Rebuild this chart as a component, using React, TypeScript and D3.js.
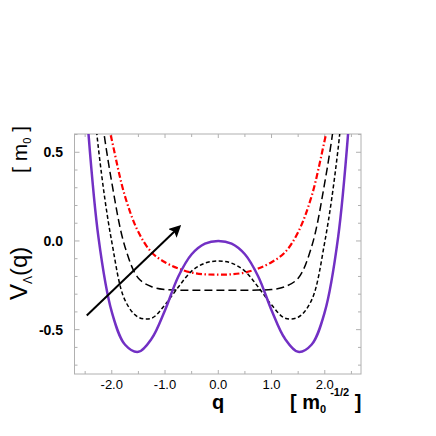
import React, { useEffect, useRef } from 'react';
import * as d3 from 'd3';

// q grid shared by all curves
const qValues = [-2.5, -2.25, -2.0, -1.75, -1.5, -1.25, -1.0, -0.75, -0.5, -0.25, 0,
  0.25, 0.5, 0.75, 1.0, 1.25, 1.5, 1.75, 2.0, 2.25, 2.5];

// V(q), one array per curve
const solidV = [0.85, 0.02, -0.40, -0.585, -0.625, -0.55, -0.39, -0.20, -0.075, -0.015, 0,
  -0.015, -0.075, -0.20, -0.39, -0.55, -0.625, -0.585, -0.40, 0.02, 0.85];
const shortDashV = [1.35, 0.52, -0.005, -0.335, -0.43, -0.435, -0.36, -0.26, -0.17, -0.125, -0.113,
  -0.125, -0.17, -0.26, -0.36, -0.435, -0.43, -0.335, -0.005, 0.52, 1.35];
const longDashV = [1.6, 0.84, 0.33, -0.035, -0.21, -0.258, -0.274, -0.277, -0.278, -0.278, -0.278,
  -0.278, -0.278, -0.277, -0.274, -0.258, -0.21, -0.035, 0.33, 0.84, 1.6];
const dashDotV = [1.5, 0.92, 0.57, 0.25, 0.05, -0.065, -0.12, -0.155, -0.178, -0.188, -0.19,
  -0.188, -0.178, -0.155, -0.12, -0.065, 0.05, 0.25, 0.57, 0.92, 1.5];

const xTicks = [-2.0, -1.0, 0.0, 1.0, 2.0];
const yTicks = [0.5, 0.0, -0.5];

// arrow from / to, in (q, V)
const arrowFrom = [-2.47, -0.42];
const arrowTo = [-0.73, 0.08];

const FONT = 'Liberation Sans, Arial, sans-serif';

export default function App() {
  const ref = useRef<SVGSVGElement>(null);

  useEffect(() => {
    const left = 74.5, right = 361, top = 134, bottom = 374;

    const x = d3.scaleLinear().domain([-2.7, 2.68]).range([left, right]);
    const y = d3.scaleLinear().domain([-0.75, 0.603]).range([bottom, top]);

    const svg = d3.select(ref.current);
    svg.selectAll('*').remove();

    const defs = svg.append('defs');
    defs.append('clipPath').attr('id', 'plotclip')
      .append('rect')
      .attr('x', left).attr('y', top)
      .attr('width', right - left).attr('height', bottom - top);

    const marker = defs.append('marker')
      .attr('id', 'arrowhead')
      .attr('viewBox', '0 0 10 10')
      .attr('refX', 8).attr('refY', 5)
      .attr('markerWidth', 6).attr('markerHeight', 6)
      .attr('markerUnits', 'strokeWidth')
      .attr('orient', 'auto');
    marker.append('path').attr('d', 'M0,0 L10,5 L0,10 L2,5 Z').attr('fill', '#000');

    // frame
    svg.append('rect')
      .attr('x', left).attr('y', top)
      .attr('width', right - left).attr('height', bottom - top)
      .attr('fill', 'none').attr('stroke', '#b0b0b0').attr('stroke-width', 1);

    // inward ticks
    const tickColor = '#b0b0b0';
    const g = svg.append('g');
    d3.range(-2.5, 2.51, 0.5).forEach(v => {
      const px = x(v);
      const len = Math.abs(v % 1) < 1e-6 ? 4 : 3;
      g.append('line').attr('x1', px).attr('x2', px).attr('y1', bottom).attr('y2', bottom - len)
        .attr('stroke', tickColor);
      g.append('line').attr('x1', px).attr('x2', px).attr('y1', top).attr('y2', top + len)
        .attr('stroke', tickColor);
    });
    d3.range(-0.7, 0.61, 0.1).forEach(v => {
      const py = y(v);
      const major = Math.abs((Math.round(v * 10)) % 5) === 0;
      const len = major ? 5 : 3;
      g.append('line').attr('x1', left).attr('x2', left + len).attr('y1', py).attr('y2', py)
        .attr('stroke', tickColor);
      g.append('line').attr('x1', right).attr('x2', right - len).attr('y1', py).attr('y2', py)
        .attr('stroke', tickColor);
    });

    // tick labels
    svg.append('g').selectAll('text').data(xTicks).enter().append('text')
      .attr('x', d => x(d))
      .attr('y', 389)
      .attr('text-anchor', 'middle')
      .attr('font-family', FONT)
      .attr('font-size', 13)
      .text(d => d.toFixed(1));

    svg.append('g').selectAll('text').data(yTicks).enter().append('text')
      .attr('x', 63)
      .attr('y', d => y(d) + 5)
      .attr('text-anchor', 'end')
      .attr('font-family', FONT)
      .attr('font-weight', 'bold')
      .attr('font-size', 14)
      .text(d => d.toFixed(1));

    // curves
    const line = d3.line<number>()
      .x((d, i) => x(qValues[i]))
      .y(d => y(d))
      .curve(d3.curveCatmullRom.alpha(0.5));

    const curves = svg.append('g').attr('clip-path', 'url(#plotclip)');
    const series = [
      { v: dashDotV, color: '#ff0000', width: 2.2, dash: '6,2.5,1.5,2.5' },
      { v: longDashV, color: '#000', width: 1.5, dash: '8,4' },
      { v: shortDashV, color: '#000', width: 1.5, dash: '4,2.5' },
      { v: solidV, color: '#7230c4', width: 2.5, dash: null }
    ];
    series.forEach(s => {
      curves.append('path')
        .attr('d', line(s.v))
        .attr('fill', 'none')
        .attr('stroke', s.color)
        .attr('stroke-width', s.width)
        .attr('stroke-dasharray', s.dash);
    });

    // arrow
    svg.append('line')
      .attr('x1', x(arrowFrom[0])).attr('y1', y(arrowFrom[1]))
      .attr('x2', x(arrowTo[0])).attr('y2', y(arrowTo[1]))
      .attr('stroke', '#000').attr('stroke-width', 2)
      .attr('marker-end', 'url(#arrowhead)');

    // axis titles
    svg.append('text')
      .attr('x', 218).attr('y', 409)
      .attr('text-anchor', 'middle')
      .attr('font-family', FONT)
      .attr('font-weight', 'bold')
      .attr('font-size', 20)
      .text('q');

    const unit = svg.append('text')
      .attr('x', 290).attr('y', 409)
      .attr('font-family', FONT)
      .attr('font-weight', 'bold')
      .attr('font-size', 20);
    unit.append('tspan').text('[ m');
    unit.append('tspan').attr('font-size', 11).attr('dy', 4).text('0');
    unit.append('tspan').attr('font-size', 11).attr('dy', -17).attr('dx', 4).text('-1/2');
    unit.append('tspan').attr('dy', 13).attr('dx', 0).text(' ]');

    const yt = svg.append('text')
      .attr('transform', 'translate(27,300) rotate(-90)')
      .attr('font-family', FONT)
      .attr('font-size', 24);
    yt.append('tspan').text('V');
    yt.append('tspan').attr('font-size', 12).attr('dy', 5).text('\u039B');
    yt.append('tspan').attr('dy', -5).text('(q)');

    const yu = svg.append('text')
      .attr('transform', 'translate(27,173) rotate(-90)')
      .attr('font-family', FONT)
      .attr('font-size', 21);
    yu.append('tspan').text('[ m');
    yu.append('tspan').attr('font-size', 11).attr('dy', 4).text('0');
    yu.append('tspan').attr('dy', -4).text(' ]');
  }, []);

  return (
    <svg ref={ref} width={436} height={436}
      style={{ position: 'absolute', left: 0, top: 0, background: '#fff' }} />
  );
}
